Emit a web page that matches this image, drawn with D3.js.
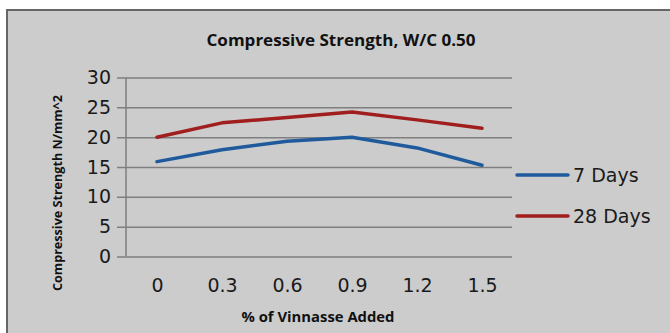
<!DOCTYPE html>
<html>
<head>
<meta charset="utf-8">
<script src="https://cdn.jsdelivr.net/npm/d3@7"></script>
<style>
  html, body { margin: 0; padding: 0; background: #ffffff; }
  svg { display: block; }
</style>
</head>
<body>
<svg id="chart" width="670" height="333"></svg>
<script>
// Compressive strength (N/mm^2) versus % of vinnasse added, W/C 0.50
const categories = ["0", "0.3", "0.6", "0.9", "1.2", "1.5"];
const days7 = [15.9, 17.9, 19.3, 20.0, 18.2, 15.3];
const days28 = [20.0, 22.4, 23.3, 24.2, 22.9, 21.5];
const yTicks = [0, 5, 10, 15, 20, 25, 30];
const seriesNames = ["7 Days", "28 Days"];
const seriesColors = ["#1f5b9c", "#a01e1e"];

const svg = d3.select("#chart");
const font = "'DejaVu Sans', sans-serif";

// chart area frame
svg.append("rect")
  .attr("x", 7).attr("y", 10)
  .attr("width", 680).attr("height", 340)
  .attr("fill", "#cccccc")
  .attr("stroke", "#666666")
  .attr("stroke-width", 2);

const plot = { left: 126, right: 512, top: 77.5, bottom: 256.5 };

const x = d3.scalePoint()
  .domain(categories)
  .range([124.5, 514.5])
  .padding(0.5);

const y = d3.scaleLinear()
  .domain([0, 30])
  .range([plot.bottom, plot.top]);

// horizontal gridlines with y ticks
const yAxis = d3.axisLeft(y)
  .tickValues(yTicks)
  .tickSize(-(plot.right - plot.left))
  .tickPadding(15)
  .tickFormat(d3.format("d"));

const gy = svg.append("g")
  .attr("transform", `translate(${plot.left},0)`)
  .call(yAxis);
gy.select(".domain").remove();
gy.selectAll(".tick line")
  .attr("x1", -9)
  .attr("stroke", "#7f7f7f")
  .attr("stroke-width", 1.5);
gy.selectAll(".tick text")
  .attr("font-family", font)
  .attr("font-size", 19)
  .attr("fill", "#1a1a1a");

// vertical axis line
svg.append("line")
  .attr("x1", plot.left).attr("x2", plot.left)
  .attr("y1", plot.top).attr("y2", plot.bottom)
  .attr("stroke", "#7f7f7f")
  .attr("stroke-width", 1.5);

// x category labels
const xAxis = d3.axisBottom(x).tickSize(0).tickPadding(22);
const gx = svg.append("g")
  .attr("transform", `translate(0,${plot.bottom})`)
  .call(xAxis);
gx.select(".domain").remove();
gx.selectAll(".tick text")
  .attr("font-family", font)
  .attr("font-size", 19)
  .attr("fill", "#1a1a1a");

// series lines
const line = d3.line()
  .x((d, i) => x(categories[i]))
  .y(d => y(d));

[days7, days28].forEach((vals, k) => {
  svg.append("path")
    .datum(vals)
    .attr("d", line)
    .attr("fill", "none")
    .attr("stroke", seriesColors[k])
    .attr("stroke-width", 3.5)
    .attr("stroke-linecap", "round")
    .attr("stroke-linejoin", "round");
});

// legend
const legendY = [175, 216];
seriesNames.forEach((name, k) => {
  svg.append("line")
    .attr("x1", 517).attr("x2", 568)
    .attr("y1", legendY[k]).attr("y2", legendY[k])
    .attr("stroke", seriesColors[k])
    .attr("stroke-width", 3.5)
    .attr("stroke-linecap", "round");
  svg.append("text")
    .attr("x", 573).attr("y", legendY[k])
    .attr("dy", "0.36em")
    .attr("font-family", font)
    .attr("font-size", 19)
    .attr("fill", "#1a1a1a")
    .text(name);
});

// title
svg.append("text")
  .attr("x", 341).attr("y", 46)
  .attr("text-anchor", "middle")
  .attr("font-family", "'Open Sans', sans-serif")
  .attr("font-weight", "bold")
  .attr("font-size", 16)
  .attr("textLength", 269)
  .attr("lengthAdjust", "spacingAndGlyphs")
  .attr("fill", "#111111")
  .text("Compressive Strength, W/C 0.50");

// axis titles
svg.append("text")
  .attr("x", 318).attr("y", 322)
  .attr("text-anchor", "middle")
  .attr("font-family", "'Open Sans', sans-serif")
  .attr("font-weight", "bold")
  .attr("font-size", 14)
  .attr("textLength", 153)
  .attr("lengthAdjust", "spacingAndGlyphs")
  .attr("fill", "#111111")
  .text("% of Vinnasse Added");

svg.append("text")
  .attr("transform", "translate(62,193) rotate(-90)")
  .attr("text-anchor", "middle")
  .attr("font-family", "'Open Sans', sans-serif")
  .attr("font-weight", "bold")
  .attr("font-size", 13)
  .attr("textLength", 196)
  .attr("lengthAdjust", "spacingAndGlyphs")
  .attr("fill", "#111111")
  .text("Compressive Strength N/mm^2");
</script>
</body>
</html>
